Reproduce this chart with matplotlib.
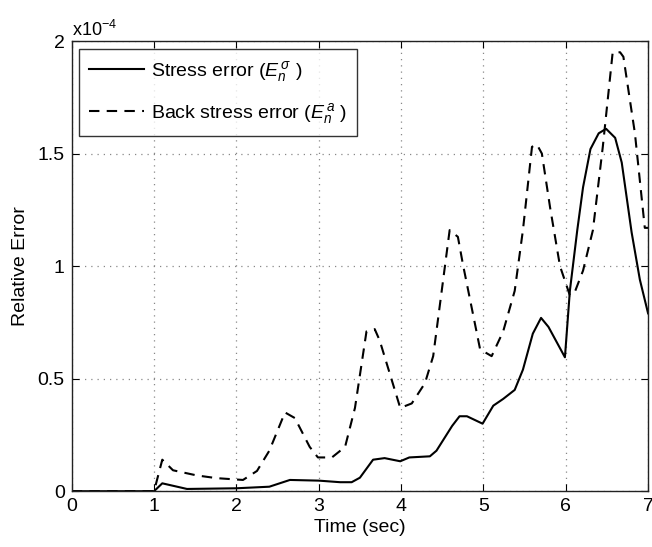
import numpy as np
import matplotlib.pyplot as plt
from matplotlib.ticker import FuncFormatter, MultipleLocator

plt.rcParams['font.family'] = ['Liberation Sans', 'DejaVu Sans']
plt.rcParams['mathtext.fontset'] = 'custom'
plt.rcParams['mathtext.it'] = 'Liberation Sans:italic'
plt.rcParams['mathtext.rm'] = 'Liberation Sans'

SCALE = 1e-4

# stress error, in units of 1e-4
t_stress = [0.0, 1.0, 1.1, 1.4, 2.0, 2.4, 2.65, 3.0, 3.26, 3.4, 3.5, 3.66, 3.8,
            3.99, 4.1, 4.35, 4.43, 4.62, 4.71, 4.8, 4.99, 5.12, 5.24, 5.38,
            5.48, 5.6, 5.7, 5.79, 5.99, 6.05, 6.14, 6.21, 6.3, 6.4, 6.49,
            6.6, 6.68, 6.8, 6.9, 7.0]
e_stress = [0.0, 0.0, 0.035, 0.01, 0.013, 0.02, 0.05, 0.047, 0.04, 0.04, 0.06,
            0.14, 0.147, 0.133, 0.15, 0.155, 0.18, 0.29, 0.333, 0.333, 0.30,
            0.38, 0.41, 0.45, 0.54, 0.70, 0.77, 0.73, 0.595, 0.89, 1.16, 1.35,
            1.52, 1.59, 1.61, 1.57, 1.46, 1.15, 0.94, 0.79]

# back stress error, in units of 1e-4
t_back = [0.0, 1.0, 1.1, 1.23, 1.52, 1.76, 2.08, 2.25, 2.4, 2.59, 2.71, 2.89,
          2.99, 3.16, 3.32, 3.44, 3.58, 3.68, 3.74, 3.99, 4.13, 4.29, 4.39,
          4.59, 4.69, 4.75, 4.96, 5.1, 5.24, 5.38, 5.48, 5.59, 5.65, 5.71,
          5.81, 5.93, 6.05, 6.11, 6.21, 6.33, 6.45, 6.57, 6.66, 6.7, 6.84,
          6.96, 7.0]
e_back = [0.0, 0.0, 0.14, 0.093, 0.07, 0.058, 0.05, 0.09, 0.18, 0.35, 0.325,
          0.197, 0.15, 0.15, 0.197, 0.37, 0.71, 0.72, 0.67, 0.37, 0.39, 0.48,
          0.60, 1.16, 1.13, 1.01, 0.63, 0.60, 0.71, 0.89, 1.16, 1.53, 1.54,
          1.50, 1.26, 1.0, 0.87, 0.885, 0.98, 1.16, 1.53, 1.95, 1.95, 1.93,
          1.59, 1.17, 1.17]

fig = plt.figure(figsize=(6.52, 5.47), dpi=100)
ax = fig.add_axes([0.110, 0.102, 0.884, 0.823])

ax.plot(t_stress, np.array(e_stress) * SCALE, 'k-', lw=1.5,
        label=r'Stress error ($E_n^{\,\sigma}$ )')
ax.plot(t_back, np.array(e_back) * SCALE, 'k--', lw=1.5, dashes=(5, 3.5),
        label=r'Back stress error ($E_n^{\,a}$ )')

ax.set_xlim(0, 7)
ax.set_ylim(0, 2 * SCALE)
ax.xaxis.set_major_locator(MultipleLocator(1))
ax.yaxis.set_major_locator(MultipleLocator(0.5 * SCALE))
ax.yaxis.set_major_formatter(FuncFormatter(lambda v, p: f'{v / SCALE:g}'))
ax.tick_params(direction='in', top=True, right=True, labelsize=14, length=5,
               pad=5)
ax.grid(True, color='#888888', linestyle=(0, (1, 4)), lw=0.9)
for s in ax.spines.values():
    s.set_linewidth(1.0)
    s.set_color('#222222')

ax.text(0.0, 1.003, r'x10$^{-4}$', transform=ax.transAxes, fontsize=13,
        ha='left', va='bottom')
ax.set_xlabel('Time (sec)', fontsize=14, labelpad=3)
ax.set_ylabel('Relative Error', fontsize=14, labelpad=6)

leg = ax.legend(loc='upper left', fontsize=14, frameon=True, fancybox=False,
                edgecolor='black', handlelength=2.8, borderaxespad=0.4,
                labelspacing=0.9, handletextpad=0.4, borderpad=0.5)
leg.get_frame().set_linewidth(1.0)

fig.savefig('out.png', dpi=100)
